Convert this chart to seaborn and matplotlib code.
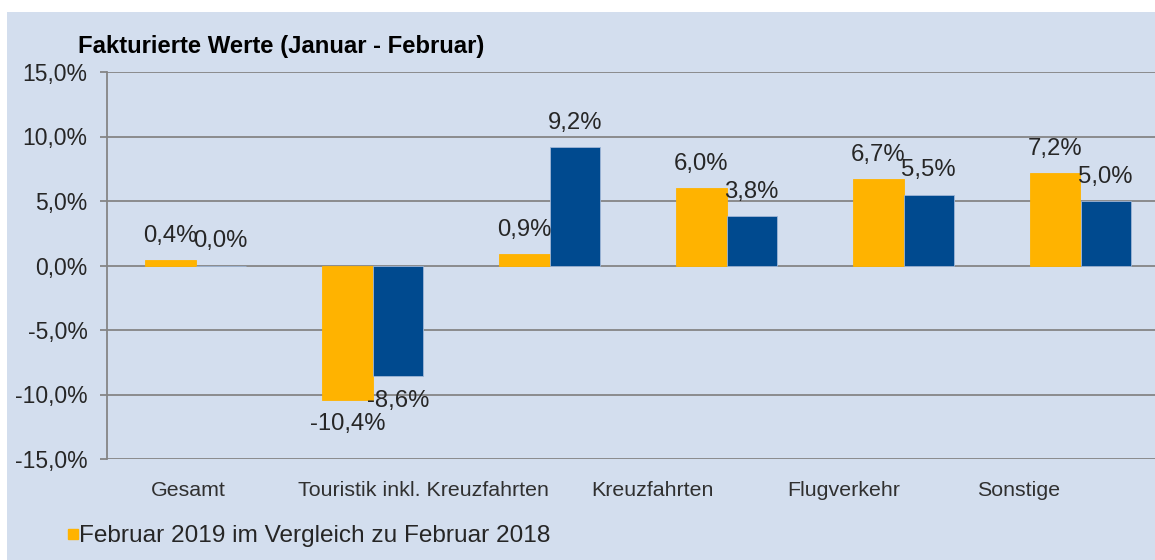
import pandas as pd
import numpy as np
import matplotlib.pyplot as plt
import matplotlib.patches as mpatches
from matplotlib.lines import Line2D
import seaborn as sns

# --- DATA ---
groups = ["Gesamt", "Touristik inkl. Kreuzfahrten", "Touristik ohne Kreuzfahrten",
          "Kreuzfahrten", "Flugverkehr", "Sonstige"]
feb_vals = [0.4, -10.4, 0.9, 6.0, 6.7, 7.2]
jan_feb_vals = [0.0, -8.6, 9.2, 3.8, 5.5, 5.0]
series_feb = "Februar 2019 im Vergleich zu Februar 2018"
series_jf = "Januar - Februar 2019 im Vergleich zu Januar - Februar 2018"

# labels as they sit under the axis in the original
tick_labels = ["Gesamt", "Touristik inkl. Kreuzfahrten", "Kreuzfahrten", "Flugverkehr", "Sonstige"]
tick_pos = [-0.04, 1.29, 2.58, 3.66, 4.65]

df = pd.DataFrame({
    "Gruppe": groups * 2,
    "Wert": feb_vals + jan_feb_vals,
    "Serie": [series_feb] * len(groups) + [series_jf] * len(groups),
})

BG = "#d3deee"
ORANGE = "#ffb300"
BLUE = "#004a8f"
GRID = "#858585"
FS = 17.2

sns.set_style("white")
plt.rcParams['font.family'] = ['Liberation Sans', 'DejaVu Sans']

fig = plt.figure(figsize=(11.55, 5.6), dpi=100)
fig.patch.set_facecolor("white")
fig.patches.append(mpatches.Rectangle((7 / 1155, 0), 1, (560 - 12) / 560,
                                      transform=fig.transFigure, facecolor=BG,
                                      edgecolor="none", zorder=-5))

ax = fig.add_axes([107 / 1155, 101 / 560, 1062 / 1155, 387 / 560])
ax.set_facecolor(BG)

sns.barplot(data=df, x="Gruppe", y="Wert", hue="Serie", order=groups,
            palette=[ORANGE, BLUE], saturation=1, width=0.57, gap=0, ax=ax,
            edgecolor="#9fb6d6", linewidth=0.6, legend=False, zorder=3)
# orange bars without the light rim
for bar in ax.containers[0]:
    bar.set_edgecolor(ORANGE)

ax.set_xlim(-0.5, len(groups) - 0.5)
ax.set_ylim(-15, 15)
ax.set_yticks(np.arange(-15, 16, 5))
ax.set_yticklabels([f"{v:.1f}%".replace(".", ",") for v in np.arange(-15, 16, 5)],
                   fontsize=16.5, color="#262626")
ax.yaxis.grid(True, color=GRID, linewidth=1.3, zorder=0)
ax.set_axisbelow(True)
ax.tick_params(axis="y", length=5, width=1.3, color=GRID, pad=9, left=True)
ax.set_xticks(tick_pos)
ax.set_xticklabels(tick_labels, fontsize=15.4, color="#303030")
ax.tick_params(axis="x", length=0, pad=16)
ax.set_xlabel("")
ax.set_ylabel("")
for s in ["top", "right", "bottom"]:
    ax.spines[s].set_visible(False)
ax.spines["left"].set_color(GRID)
ax.spines["left"].set_linewidth(1.3)

# value labels
for cont in ax.containers:
    for bar in cont:
        h = bar.get_height()
        xc = bar.get_x() + bar.get_width() / 2
        txt = f"{h:.1f}%".replace(".", ",")
        if h >= 0:
            ax.annotate(txt, (xc, h), xytext=(0, 13), textcoords="offset points",
                        ha="center", va="baseline", fontsize=FS, color="#262626", zorder=5)
        else:
            ax.annotate(txt, (xc, h), xytext=(0, -22), textcoords="offset points",
                        ha="center", va="baseline", fontsize=FS, color="#262626", zorder=5)

fig.text(78 / 1155, 1 - 47 / 560, "Fakturierte Werte (Januar - Februar)",
         fontsize=FS, fontweight="bold", color="black", va="center", ha="left")

handle = Line2D([], [], marker="s", linestyle="none", markersize=7,
                markerfacecolor=ORANGE, markeredgecolor=ORANGE)
fig.legend(handles=[handle], labels=[series_feb], loc="center left",
           bbox_to_anchor=(52 / 1155, 1 - 536 / 560), frameon=False,
           fontsize=17.6, handletextpad=-0.1, handlelength=0.7, borderpad=0,
           labelcolor="#262626")

fig.savefig("out.png", dpi=100, facecolor=fig.get_facecolor())
